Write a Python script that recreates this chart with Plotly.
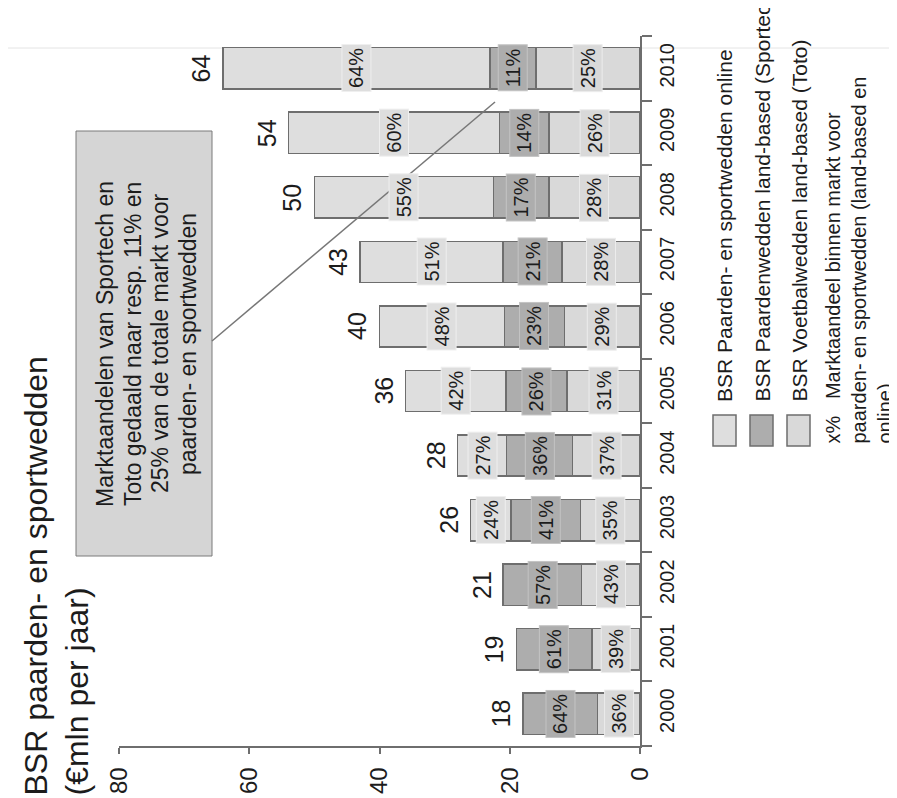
import plotly.graph_objects as go

# ---------------- data ----------------
years = ["2000", "2001", "2002", "2003", "2004", "2005", "2006", "2007", "2008", "2009", "2010"]
totals = [18, 19, 21, 26, 28, 36, 40, 43, 50, 54, 64]
toto = [6.5, 7.4, 9.0, 9.1, 10.4, 11.2, 11.6, 12.0, 14.0, 14.0, 16.0]
sportech = [11.5, 11.6, 12.0, 10.7, 10.1, 9.4, 9.2, 9.0, 8.5, 7.6, 7.0]
online = [None, None, None, 6.2, 7.5, 15.4, 19.2, 22.0, 27.5, 32.4, 41.0]
pct_toto = [36, 39, 43, 35, 37, 31, 29, 28, 28, 26, 25]
pct_sportech = [64, 61, 57, 41, 36, 26, 23, 21, 17, 14, 11]
pct_online = [None, None, None, 24, 27, 42, 48, 51, 55, 60, 64]
value_ticks = [0, 20, 40, 60, 80]

name_online = "BSR Paarden- en sportwedden online"
name_sportech = "BSR Paardenwedden land-based (Sportech)"
name_toto = "BSR Voetbalwedden land-based (Toto)"
legend_note = "x%&nbsp;&nbsp;&nbsp;Marktaandeel binnen markt voor<br>paarden- en sportwedden (land-based en<br>online)"
title_text = "BSR paarden- en sportwedden<br>(€mln per jaar)"
callout_lines = ["Marktaandelen van Sportech en", "Toto gedaald naar resp. 11% en",
                 "25% van de totale markt voor", "paarden- en sportwedden"]

# ---------------- styling ----------------
FONT = "Liberation Sans, Arial, sans-serif"
TXT = "#1c1c1c"
EDGE = "#6e6e6e"
C_TOTO = "#d9d9d9"
C_SPORT = "#adadad"
C_ONLINE = "#dedede"

W, H = 897, 798
L, R, T, B = 111, 632, 28, 738


def px(x):
    return (x - L) / (R - L)


def py(y):
    return (B - y) / (B - T)


fig = go.Figure()
series = [
    (name_toto, toto, pct_toto, C_TOTO, "#ececec"),
    (name_sportech, sportech, pct_sportech, C_SPORT, "#c4c4c4"),
    (name_online, online, pct_online, C_ONLINE, "#efefef"),
]
for name, vals, _, col, _ in series:
    fig.add_trace(go.Bar(
        y=years, x=vals, orientation="h", name=name,
        marker=dict(color=col, line=dict(color=EDGE, width=1.5)),
        width=0.64, showlegend=False, hoverinfo="skip",
    ))

annotations = []
# percentage labels centred in each segment (y given as category index)
base = [0.0] * len(years)
for name, vals, pcts, col, bcol in series:
    for i, v in enumerate(vals):
        if v is None:
            continue
        mid = base[i] + v / 2.0
        base[i] += v
        if pcts[i] is None:
            continue
        annotations.append(dict(
            x=mid, y=i, xref="x", yref="y", text=f"{pcts[i]}%",
            showarrow=False, textangle=-90, font=dict(family=FONT, size=20, color=TXT),
            bgcolor=col, bordercolor=bcol, borderwidth=1, borderpad=3,
        ))

# totals
for i, tot in enumerate(totals):
    annotations.append(dict(
        x=tot, y=i, xref="x", yref="y", text=str(tot), showarrow=False,
        textangle=-90, xanchor="right", xshift=-6,
        font=dict(family=FONT, size=25, color=TXT),
    ))

# title
annotations.append(dict(
    x=px(8), y=py(790), xref="paper", yref="paper", text=title_text,
    showarrow=False, textangle=-90, xanchor="left", yanchor="bottom", align="left",
    font=dict(family=FONT, size=32, color=TXT),
))

# callout text, one line per annotation for tight line spacing
for xc, line in zip([97, 125, 152, 180], callout_lines):
    annotations.append(dict(
        x=px(xc), y=py(336), xref="paper", yref="paper", text=line,
        showarrow=False, textangle=-90, xanchor="center", yanchor="middle",
        font=dict(family=FONT, size=23, color=TXT),
    ))

# legend texts
for xc, name in [(716.5, name_online), (753.5, name_sportech), (790.5, name_toto)]:
    annotations.append(dict(
        x=px(xc), y=py(396), xref="paper", yref="paper", text=name,
        showarrow=False, textangle=-90, xanchor="center", yanchor="bottom",
        font=dict(family=FONT, size=21, color=TXT),
    ))
annotations.append(dict(
    x=px(811), y=py(438), xref="paper", yref="paper", text=legend_note,
    showarrow=False, textangle=-90, xanchor="left", yanchor="bottom", align="left",
    font=dict(family=FONT, size=20, color=TXT),
))

shapes = []
# faint scan line across the page
shapes.append(dict(type="line", xref="paper", yref="paper", x0=px(0), x1=px(W), y0=py(40), y1=py(40),
                   line=dict(color="#e4e4e4", width=1), layer="below"))
# legend swatches
for x0, col in [(705, C_ONLINE), (742, C_SPORT), (779, C_TOTO)]:
    shapes.append(dict(type="rect", xref="paper", yref="paper",
                       x0=px(x0), x1=px(x0 + 23), y0=py(438), y1=py(407),
                       fillcolor=col, line=dict(color=EDGE, width=1.5)))
# callout box and connector
shapes.append(dict(type="rect", xref="paper", yref="paper", x0=px(68), x1=px(204),
                   y0=py(548), y1=py(123), fillcolor="#d5d5d5", line=dict(color="#7a7a7a", width=1),
                   layer="below"))
shapes.append(dict(type="line", xref="paper", yref="paper", x0=px(204), y0=py(333),
                   x1=px(487), y1=py(94), line=dict(color="#777777", width=1.5)))

fig.update_layout(
    width=W, height=H,
    margin=dict(l=L, r=W - R, t=T, b=H - B, pad=0),
    paper_bgcolor="white", plot_bgcolor="white",
    barmode="stack", showlegend=False,
    annotations=annotations, shapes=shapes,
    font=dict(family=FONT, color=TXT),
    xaxis=dict(
        range=[80, 0], tickvals=value_ticks, ticktext=[str(v) for v in value_ticks],
        tickangle=-90, ticks="outside", ticklen=6, tickwidth=1.5, tickcolor=EDGE,
        showline=True, linecolor=EDGE, linewidth=1.5, showgrid=False, zeroline=False,
        tickfont=dict(family=FONT, size=24, color=TXT), ticklabelstandoff=4,
    ),
    yaxis=dict(
        type="category", categoryorder="array", categoryarray=years,
        range=[-0.5, len(years) - 0.5], side="right", tickson="boundaries",
        ticks="outside", ticklen=10, tickwidth=1.5, tickcolor=EDGE,
        showline=True, linecolor=EDGE, linewidth=1.5, showgrid=False, zeroline=False,
        tickangle=-90, tickfont=dict(family=FONT, size=20, color=TXT), ticklabelstandoff=8,
    ),
)

fig.write_html("out.html")
